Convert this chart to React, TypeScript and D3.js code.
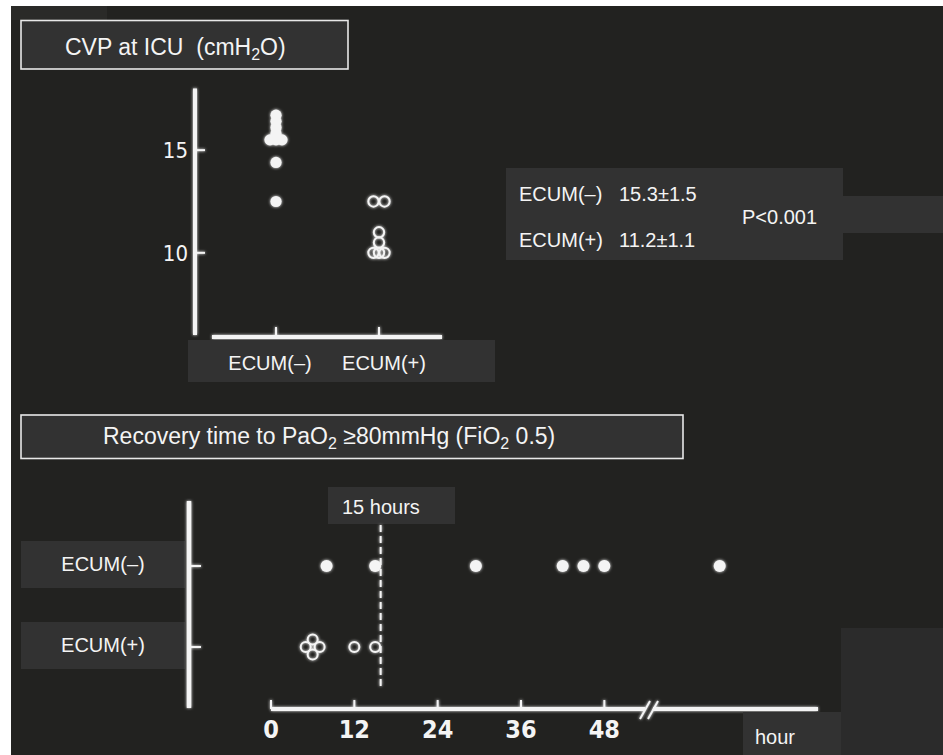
import React from "react";
import * as d3 from "d3";

// CVP at ICU (cmH2O), per patient
const cvpGroups = ["ECUM(–)", "ECUM(+)"];
const cvpMinus = [16.7, 16.4, 16.1, 15.8, 15.5, 15.5, 15.5, 14.4, 12.5];
const cvpPlus = [12.5, 12.5, 11, 10.5, 10, 10, 10];
const cvpTicks = [10, 15];

// Summary statistics
const statLabels = ["ECUM(–)", "ECUM(+)"];
const statValues = ["15.3±1.5", "11.2±1.1"];
const pValueText = "P<0.001";

// Recovery time to PaO2 >= 80 mmHg (hours), per patient
const recoveryGroups = ["ECUM(–)", "ECUM(+)"];
const recoveryMinus = [8, 15, 29.5, 42, 45, 48, 72];
const recoveryPlus = [5, 6, 6, 7, 12, 15];
const hourTicks = [0, 12, 24, 36, 48];
const thresholdHours = 15;
const breakHour = 54;

const W = 943;
const H = 755;
const BG = "#222220";
const PANEL = "#323232";
const INK = "#f4f4f4";
const SANS = "'Liberation Sans', Arial, Helvetica, sans-serif";
const NARROW = "'Liberation Sans Narrow', 'DejaVu Sans Condensed', sans-serif";

// spread equal values across a fixed width (or height) so they stay visible
function dodge(values: number[], spread: number) {
  const counts = d3.rollup(values, (v) => v.length, (d) => d);
  const seen = new Map<number, number>();
  return values.map((v) => {
    const n = counts.get(v) || 1;
    const i = seen.get(v) || 0;
    seen.set(v, i + 1);
    return { value: v, shift: n > 1 ? (i / (n - 1) - 0.5) * spread : 0 };
  });
}

export default function App() {
  // ---- upper chart scales
  const yCvp = d3.scaleLinear().domain([6, 18]).range([335, 88.5]);
  const xCvp = d3.scalePoint<string>().domain(cvpGroups).range([276, 379]);

  // ---- lower chart scales (broken axis after 54 h)
  const xHour = d3.scaleLinear().domain([0, breakHour, 96]).range([271, 646, 818]);
  const yRec = d3.scalePoint<string>().domain(recoveryGroups).range([566, 647]);

  const cvpMinusPts = dodge(cvpMinus, 12);
  const cvpPlusPts = dodge(cvpPlus, 11);
  const recMinusPts = dodge(recoveryMinus, 15);
  const recPlusPts = dodge(recoveryPlus, 15);

  const bx = xHour(breakHour);
  const axisY = 709;

  return (
    <svg
      width={W}
      height={H}
      viewBox={`0 0 ${W} ${H}`}
      style={{ position: "absolute", left: 0, top: 0, display: "block" }}
    >
      <defs>
        <filter id="glow" x="-50%" y="-50%" width="200%" height="200%">
          <feGaussianBlur in="SourceGraphic" stdDeviation="1.6" result="b" />
          <feMerge>
            <feMergeNode in="b" />
            <feMergeNode in="SourceGraphic" />
          </feMerge>
        </filter>
      </defs>

      <rect x={0} y={0} width={W} height={H} fill="#ffffff" />
      <rect x={11} y={6} width={W - 11} height={H - 6} fill={BG} />
      <rect x={11} y={6} width={96} height={14} fill="#2a2a28" />

      {/* ===== Upper chart: CVP ===== */}
      <rect x={21} y={20.5} width={327} height={48.5} fill={PANEL} stroke="#e8e8e8" strokeWidth={1.6} />
      <text x={65} y={55} fill={INK} fontFamily={SANS} fontSize={23}>
        CVP at ICU{"\u00a0\u00a0"}(cmH
        <tspan dy={5} fontSize={16}>2</tspan>
        <tspan dy={-5}>O)</tspan>
      </text>

      <g filter="url(#glow)" stroke={INK} fill={INK}>
        <line x1={195} x2={195} y1={yCvp(18)} y2={yCvp(6)} strokeWidth={4} />
        <line x1={212} x2={442} y1={337} y2={337} strokeWidth={4} />
        {cvpTicks.map((t) => (
          <line key={t} x1={195} x2={205} y1={yCvp(t)} y2={yCvp(t)} strokeWidth={2} />
        ))}
        {cvpGroups.map((g) => (
          <line key={g} x1={xCvp(g)} x2={xCvp(g)} y1={327} y2={337} strokeWidth={2} />
        ))}
        {cvpMinusPts.map((p, i) => (
          <circle key={"m" + i} cx={(xCvp(cvpGroups[0]) as number) + p.shift} cy={yCvp(p.value)} r={5.6} stroke="none" />
        ))}
        {cvpPlusPts.map((p, i) => (
          <circle
            key={"p" + i}
            cx={(xCvp(cvpGroups[1]) as number) + p.shift}
            cy={yCvp(p.value)}
            r={5.2}
            fill="none"
            strokeWidth={2}
          />
        ))}
      </g>
      {cvpTicks.map((t) => (
        <text
          key={t}
          x={188}
          y={yCvp(t) + 8}
          textAnchor="end"
          fill={INK}
          fontFamily={NARROW}
          fontSize={22}
        >
          {t}
        </text>
      ))}

      <rect x={188} y={340} width={307} height={42} fill={PANEL} />
      {cvpGroups.map((g, i) => (
        <text
          key={g}
          x={[270, 384][i]}
          y={370}
          textAnchor="middle"
          fill={INK}
          fontFamily={SANS}
          fontSize={20}
        >
          {g}
        </text>
      ))}

      {/* summary box */}
      <rect x={506} y={168} width={337} height={92} fill={PANEL} />
      <rect x={843} y={196} width={100} height={37} fill={PANEL} />
      {statLabels.map((s, i) => (
        <g key={s}>
          <text x={519} y={[201, 247][i]} fill={INK} fontFamily={SANS} fontSize={20}>
            {s}
          </text>
          <text x={619} y={[201, 247][i]} fill={INK} fontFamily={SANS} fontSize={20}>
            {statValues[i]}
          </text>
        </g>
      ))}
      <text x={742} y={224} fill={INK} fontFamily={SANS} fontSize={20}>
        {pValueText}
      </text>

      {/* ===== Lower chart: recovery time ===== */}
      <rect x={21} y={415} width={662} height={43.5} fill={PANEL} stroke="#e8e8e8" strokeWidth={1.6} />
      <text x={103} y={444} fill={INK} fontFamily={SANS} fontSize={23}>
        Recovery time to PaO
        <tspan dy={5} fontSize={16}>2</tspan>
        <tspan dy={-5}>{" \u226580mmHg (FiO"}</tspan>
        <tspan dy={5} fontSize={16}>2</tspan>
        <tspan dy={-5}>{" 0.5)"}</tspan>
      </text>

      {recoveryGroups.map((g, i) => (
        <g key={g}>
          <rect x={21} y={[541, 622][i]} width={164} height={47} fill={PANEL} />
          <text
            x={103}
            y={[571, 652][i]}
            textAnchor="middle"
            fill={INK}
            fontFamily={SANS}
            fontSize={20}
          >
            {g}
          </text>
        </g>
      ))}

      <rect x={328} y={487} width={127} height={37} fill={PANEL} />
      <text x={342} y={514} fill={INK} fontFamily={SANS} fontSize={20}>
        {`${thresholdHours} hours`}
      </text>

      <g filter="url(#glow)" stroke={INK} fill={INK}>
        <line x1={189} x2={189} y1={501} y2={708} strokeWidth={4.5} />
        {recoveryGroups.map((g) => (
          <line key={g} x1={189} x2={201} y1={yRec(g)} y2={yRec(g)} strokeWidth={2} />
        ))}
        <line x1={xHour(0)} x2={bx - 1} y1={axisY} y2={axisY} strokeWidth={4} />
        <line x1={bx + 7} x2={xHour(96)} y1={axisY} y2={axisY} strokeWidth={4} />
        <line x1={bx - 6} x2={bx + 4} y1={axisY + 10} y2={axisY - 8} strokeWidth={2} />
        <line x1={bx + 2} x2={bx + 12} y1={axisY + 10} y2={axisY - 8} strokeWidth={2} />
        {hourTicks.map((t) => (
          <line key={t} x1={xHour(t)} x2={xHour(t)} y1={axisY - 9} y2={axisY} strokeWidth={2} />
        ))}
        <line
          x1={xHour(thresholdHours) + 5.5}
          x2={xHour(thresholdHours) + 5.5}
          y1={525}
          y2={690}
          strokeWidth={2}
          strokeDasharray="7 4"
        />
        {recMinusPts.map((p, i) => (
          <circle
            key={"rm" + i}
            cx={xHour(p.value)}
            cy={(yRec(recoveryGroups[0]) as number) + p.shift}
            r={6}
            stroke="none"
          />
        ))}
        {recPlusPts.map((p, i) => (
          <circle
            key={"rp" + i}
            cx={xHour(p.value)}
            cy={(yRec(recoveryGroups[1]) as number) + p.shift}
            r={5}
            fill="none"
            strokeWidth={2}
          />
        ))}
      </g>
      {hourTicks.map((t) => (
        <text
          key={t}
          x={xHour(t)}
          y={738}
          textAnchor="middle"
          fill={INK}
          fontFamily={NARROW}
          fontWeight="bold"
          fontSize={25}
        >
          {t}
        </text>
      ))}

      <rect x={841} y={628} width={102} height={127} fill="#2b2b2b" />
      <rect x={743} y={712} width={98} height={43} fill={PANEL} />
      <text x={755} y={744} fill={INK} fontFamily={SANS} fontSize={20}>
        hour
      </text>
    </svg>
  );
}
